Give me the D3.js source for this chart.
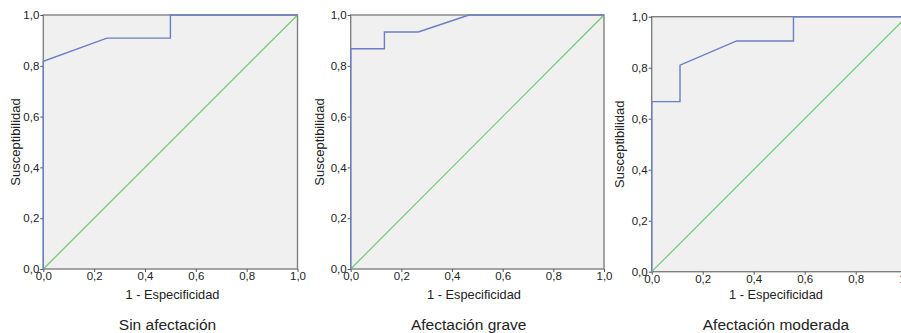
<!DOCTYPE html>
<html><head><meta charset="utf-8">
<script src="https://cdn.jsdelivr.net/npm/d3@7"></script>
<style>body{margin:0;background:#fff}svg{display:block}text{font-family:"Liberation Sans",Arial,sans-serif;fill:#222}</style>
</head><body><svg id="c" width="901" height="333"></svg>
<script>
const titles = ["Sin afectación", "Afectación grave", "Afectación moderada"];
const xLabel = "1 - Especificidad";
const yLabel = "Susceptibilidad";
const ticks = [0, 0.2, 0.4, 0.6, 0.8, 1.0];
const fpr1 = [0, 0, 0.25, 0.5, 0.5, 1];
const tpr1 = [0, 0.818, 0.909, 0.909, 1, 1];
const fpr2 = [0, 0, 0.133, 0.133, 0.267, 0.467, 1];
const tpr2 = [0, 0.867, 0.867, 0.933, 0.933, 1, 1];
const fpr3 = [0, 0, 0.111, 0.111, 0.333, 0.556, 0.556, 1];
const tpr3 = [0, 0.667, 0.667, 0.81, 0.905, 0.905, 1, 1];

const layout = [
  {x0: 43.3, x1: 297.5, y0: 15, y1: 269, tx: 167.5, lx: 172.5, yl: 19.5},
  {x0: 350.7, x1: 604, y0: 15, y1: 269, tx: 468.7, lx: 474, yl: 323.5},
  {x0: 651.7, x1: 906.7, y0: 16.7, y1: 271.7, tx: 776, lx: 776, yl: 623.5}
];
const series = [[fpr1, tpr1], [fpr2, tpr2], [fpr3, tpr3]];
const svg = d3.select("#c");
const fmt = d => d3.format(".1f")(d).replace(".", ",");

layout.forEach((L, i) => {
  const x = d3.scaleLinear().domain([0, 1]).range([L.x0, L.x1]);
  const y = d3.scaleLinear().domain([0, 1]).range([L.y1, L.y0]);
  const g = svg.append("g");
  g.append("rect").attr("x", L.x0).attr("y", L.y0).attr("width", L.x1 - L.x0).attr("height", L.y1 - L.y0)
    .attr("fill", "#f0f0f0").attr("stroke", "#808080").attr("stroke-width", 1.4);
  const ax = g.append("g").attr("transform", `translate(0,${L.y1})`)
    .call(d3.axisBottom(x).tickValues(ticks).tickSize(3).tickSizeOuter(0).tickFormat(fmt));
  const ay = g.append("g").attr("transform", `translate(${L.x0},0)`)
    .call(d3.axisLeft(y).tickValues(ticks).tickSize(3).tickSizeOuter(0).tickFormat(fmt));
  [ax, ay].forEach(a => {
    a.select(".domain").remove();
    a.selectAll("line").attr("stroke", "#555");
    a.selectAll("text").attr("font-size", "11.5px").attr("fill", "#222")
      .style("font-family", '"Liberation Sans",Arial,sans-serif');
  });
  ax.selectAll("text").attr("dy", "0.6em").attr("y", 4);
  ay.selectAll("text").attr("x", -4);
  // diagonal reference
  g.append("line").attr("x1", x(0)).attr("y1", y(0)).attr("x2", x(1)).attr("y2", y(1))
    .attr("stroke", "#6fcb6f").attr("stroke-width", 1.2);
  const [fx, ty] = series[i];
  const pts = fx.map((v, k) => [v, ty[k]]);
  g.append("path").attr("d", d3.line().x(d => x(d[0])).y(d => y(d[1]))(pts))
    .attr("fill", "none").attr("stroke", "#6a7ec4").attr("stroke-width", 1.4);
  g.append("text").attr("x", L.lx).attr("y", 299).attr("text-anchor", "middle")
    .attr("font-size", "12.8px").text(xLabel);
  g.append("text").attr("transform", `translate(${L.yl},${(L.y0 + L.y1) / 2}) rotate(-90)`)
    .attr("text-anchor", "middle").attr("font-size", "13px").text(yLabel);
  g.append("text").attr("x", L.tx).attr("y", 330).attr("text-anchor", "middle")
    .attr("font-size", "15.5px").text(titles[i]);
});
</script></body></html>
